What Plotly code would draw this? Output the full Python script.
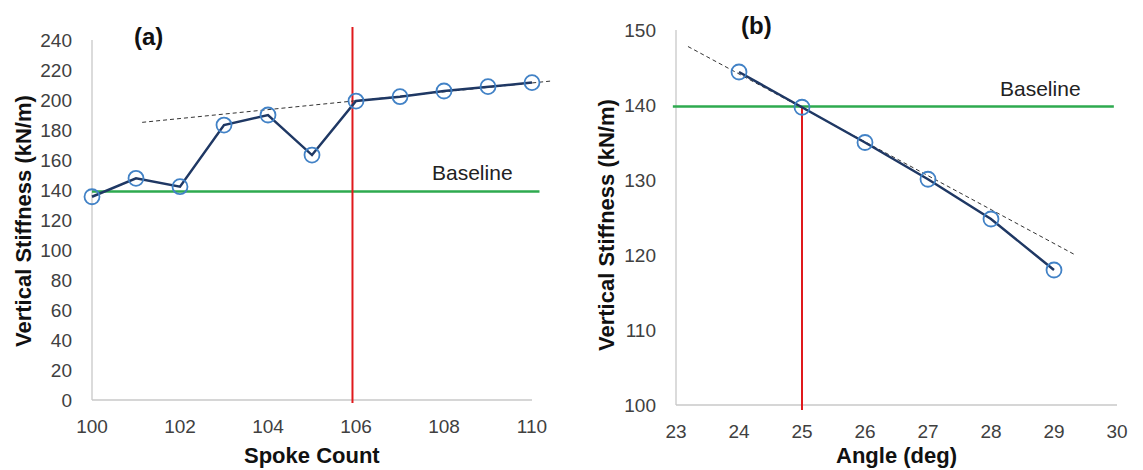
import plotly.graph_objects as go

# ---------------- data ----------------
SPOKES = [100, 101, 102, 103, 104, 105, 106, 107, 108, 109, 110]
STIFF_A = [135.5, 147.8, 142.2, 183.3, 190.0, 163.3, 199.3, 202.2, 206.0, 208.9, 211.6]
TREND_A_X = [101.14, 110.45]
TREND_A_Y = [185.1, 212.7]
BASE_A_X = [100, 110.17]
BASE_A_Y = [139, 139]
RED_A_X = [105.92, 105.92]
RED_A_Y = [-2, 248.7]
XTICKS_A = [100, 102, 104, 106, 108, 110]
YTICKS_A = [0, 20, 40, 60, 80, 100, 120, 140, 160, 180, 200, 220, 240]

ANGLES = [24, 25, 26, 27, 28, 29]
STIFF_B = [144.4, 139.7, 135.0, 130.1, 124.8, 118.0]
TREND_B_X = [23.19, 29.34]
TREND_B_Y = [147.8, 120.0]
BASE_B_X = [22.95, 29.95]
BASE_B_Y = [139.8, 139.8]
RED_B_X = [25, 25]
RED_B_Y = [99.33, 139.7]
XTICKS_B = [23, 24, 25, 26, 27, 28, 29, 30]
YTICKS_B = [100, 110, 120, 130, 140, 150]

W, H = 1143, 470
NAVY = "#1f3864"
MARK = "#4282c6"
GREEN = "#2eaa4f"
RED = "#e0191c"
AXC = "#c8c8c8"
FONT = "Liberation Sans, Arial, sans-serif"


def px(x):
    return x / W


def py(y):
    return 1 - y / H


fig = go.Figure()


def add_panel(xa, ya, bx, by, rx, ry, tx, ty, dx, dy):
    fig.add_trace(go.Scatter(x=bx, y=by, mode="lines", line=dict(color=GREEN, width=2.5),
                             xaxis=xa, yaxis=ya, showlegend=False, hoverinfo="skip"))
    fig.add_trace(go.Scatter(x=rx, y=ry, mode="lines", line=dict(color=RED, width=2),
                             xaxis=xa, yaxis=ya, showlegend=False, hoverinfo="skip"))
    fig.add_trace(go.Scatter(x=tx, y=ty, mode="lines", line=dict(color="#333333", width=1, dash="4px,3px"),
                             xaxis=xa, yaxis=ya, showlegend=False, hoverinfo="skip"))
    fig.add_trace(go.Scatter(x=dx, y=dy, mode="lines+markers",
                             line=dict(color=NAVY, width=2.5),
                             marker=dict(symbol="circle-open", size=15, color=MARK, line=dict(width=1.8, color=MARK)),
                             xaxis=xa, yaxis=ya, showlegend=False))


add_panel("x", "y", BASE_A_X, BASE_A_Y, RED_A_X, RED_A_Y, TREND_A_X, TREND_A_Y, SPOKES, STIFF_A)
add_panel("x2", "y2", BASE_B_X, BASE_B_Y, RED_B_X, RED_B_Y, TREND_B_X, TREND_B_Y, ANGLES, STIFF_B)

tickfont = dict(family=FONT, size=19, color="#404040")
common = dict(showgrid=False, zeroline=False, showline=False, ticks="", tickfont=tickfont,
              fixedrange=True, automargin=False)

# panel a: 100->92px, 44 px/unit ; 0->400px, 1.5 px/unit
# panel b: 23->676px, 63 px/unit ; 100->405px, 7.5 px/unit
fig.update_layout(
    width=W, height=H,
    margin=dict(l=0, r=0, t=0, b=0, pad=0, autoexpand=False),
    paper_bgcolor="white", plot_bgcolor="white",
    xaxis=dict(domain=[px(74.4), px(558.4)], range=[99.6, 110.6], anchor="free", position=py(400),
               tickvals=XTICKS_A, ticklabelstandoff=13, **common),
    yaxis=dict(domain=[py(404.5), py(25)], range=[-3, 250], anchor="free", position=px(92),
               tickvals=YTICKS_A, ticklabelstandoff=20, **common),
    xaxis2=dict(domain=[px(663.4), px(1123.3)], range=[22.8, 30.1], anchor="free", position=py(405),
                tickvals=XTICKS_B, ticklabelstandoff=13, **common),
    yaxis2=dict(domain=[py(410.25), py(26.25)], range=[99.3, 150.5], anchor="free", position=px(676),
                tickvals=YTICKS_B, ticklabelstandoff=20, **common),
)

shapes = [
    dict(type="line", xref="x", yref="y", x0=100, x1=110, y0=0, y1=0, line=dict(color=AXC, width=1.3)),
    dict(type="line", xref="x", yref="y", x0=100, x1=100, y0=0, y1=240, line=dict(color=AXC, width=1.3)),
    dict(type="line", xref="x2", yref="y2", x0=23, x1=30, y0=100, y1=100, line=dict(color=AXC, width=1.3)),
    dict(type="line", xref="x2", yref="y2", x0=23, x1=23, y0=100, y1=150, line=dict(color=AXC, width=1.3)),
]
for s in shapes:
    s["layer"] = "below"
fig.update_layout(shapes=shapes)

title_font = dict(family=FONT, size=22, color="#111111")
ann = [
    dict(text="<b>Vertical Stiffness (kN/m)</b>", x=px(23), y=py(221), textangle=-90, font=title_font),
    dict(text="<b>Spoke Count</b>", x=px(312), y=py(455), font=title_font),
    dict(text="<b>Vertical Stiffness (kN/m)</b>", x=px(606), y=py(225), textangle=-90, font=title_font),
    dict(text="<b>Angle (deg)</b>", x=px(896.5), y=py(455), font=title_font),
    dict(text="<b>(a)</b>", x=px(148), y=py(36), font=dict(family=FONT, size=24, color="#111111")),
    dict(text="<b>(b)</b>", x=px(756), y=py(25), font=dict(family=FONT, size=24, color="#111111")),
    dict(text="Baseline", x=px(472), y=py(172), font=dict(family=FONT, size=21, color="#222222")),
    dict(text="Baseline", x=px(1040.5), y=py(88), font=dict(family=FONT, size=21, color="#222222")),
]
for a in ann:
    a.update(xref="paper", yref="paper", showarrow=False, xanchor="center", yanchor="middle")
fig.update_layout(annotations=ann)

fig.write_html("out.html", config={"displayModeBar": False},
               post_script="document.body.style.margin='0';document.body.style.overflow='hidden';")
